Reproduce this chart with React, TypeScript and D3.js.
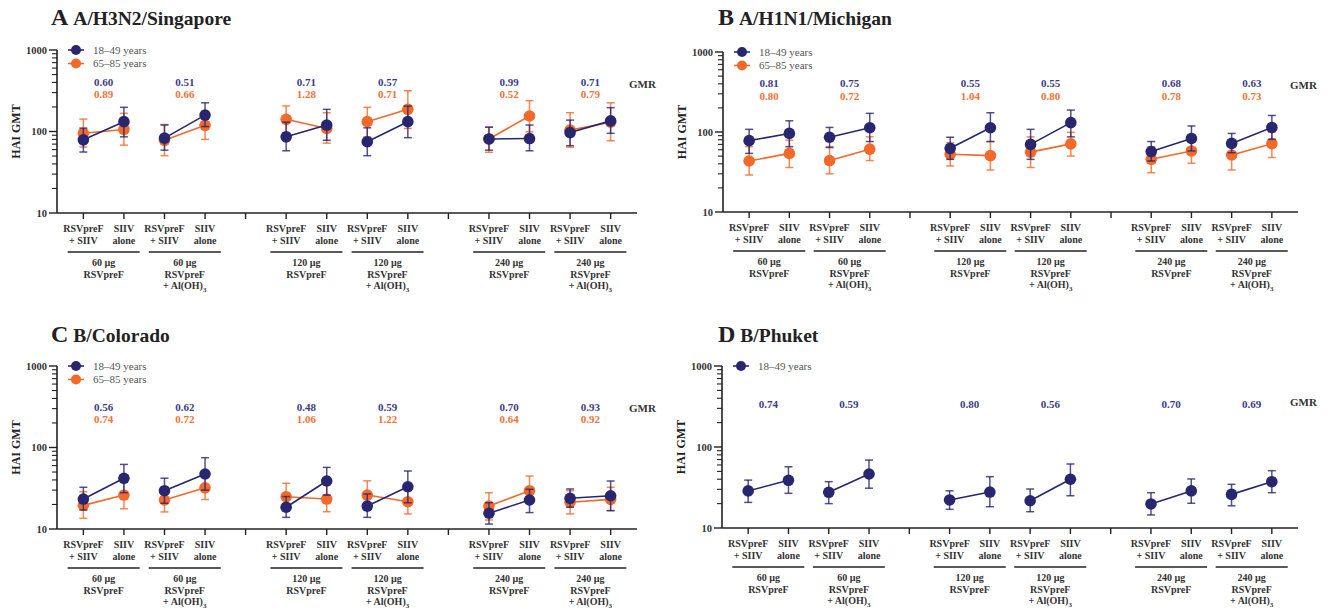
import React from "react";
import * as d3 from "d3";

// ---------- data ----------
const positions = [0, 1, 2, 3, 5, 6, 7, 8, 10, 11, 12, 13];
const emptyTicks = [4, 9];
const pointLabels = [
  ["RSVpreF", "+ SIIV"],
  ["SIIV", "alone"],
];
const groupLabels = [
  ["60 µg", "RSVpreF"],
  ["60 µg", "RSVpreF", "+ Al(OH)"],
  ["120 µg", "RSVpreF"],
  ["120 µg", "RSVpreF", "+ Al(OH)"],
  ["240 µg", "RSVpreF"],
  ["240 µg", "RSVpreF", "+ Al(OH)"],
];
const yTickValues = [10, 100, 1000];
const legendLabels = ["18–49 years", "65–85 years"];

// Panel A – A/H3N2/Singapore
const aNavy = [79, 132, 83, 159, 86, 120, 75, 132, 81, 82, 97, 135];
const aNavyLo = [56, 86, 59, 115, 58, 78, 50.5, 84, 59, 58, 67, 95];
const aNavyHi = [110, 198, 120, 225, 130, 187, 111, 205, 113, 120, 138, 196];
const aOrange = [95, 106, 78, 119, 141, 109, 132, 187, 81, 155, 104, 130];
const aOrangeLo = [64.5, 68, 50.5, 80, 97, 72, 86, 109, 55.5, 99, 64, 77];
const aOrangeHi = [142, 167, 122, 175, 206, 170, 198, 316, 113, 239, 170, 225];
const aGmrNavy = ["0.60", "0.51", "0.71", "0.57", "0.99", "0.71"];
const aGmrOrange = ["0.89", "0.66", "1.28", "0.71", "0.52", "0.79"];

// Panel B – A/H1N1/Michigan
const bNavy = [78, 96, 86, 113, 62.5, 113, 70, 131, 57, 83, 72, 114];
const bNavyLo = [54, 65.5, 64, 76, 45.5, 76, 45.5, 87, 43.4, 58, 55, 81];
const bNavyHi = [108, 138, 114, 171, 86, 174, 108, 188, 76, 119, 96, 161];
const bOrange = [43.4, 54, 44, 61, 52.6, 50.6, 56, 71, 45.6, 58, 51.6, 71.5];
const bOrangeLo = [29, 36, 30, 44, 37.6, 33.5, 36, 50, 31, 40.6, 33.5, 48];
const bOrangeHi = [65.5, 79, 65.5, 87, 73.5, 76, 87, 99, 65.5, 83, 79, 99];
const bGmrNavy = ["0.81", "0.75", "0.55", "0.55", "0.68", "0.63"];
const bGmrOrange = ["0.80", "0.72", "1.04", "0.80", "0.78", "0.73"];

// Panel C – B/Colorado
const cNavy = [23.3, 41.9, 29.5, 47.3, 18.5, 38.8, 19.1, 33, 15.6, 22.7, 23.8, 25.6];
const cNavyLo = [17.1, 27.9, 20.7, 30, 13.9, 26, 13.9, 21, 11.5, 15.9, 18.5, 16.8];
const cNavyHi = [32.5, 62, 42, 75, 25, 57, 26.9, 51.5, 21, 30.7, 31, 38.8];
const cOrange = [19.5, 26.1, 22.7, 32, 24.9, 23.3, 26.1, 21.6, 19.1, 29.5, 21.3, 23.1];
const cOrangeLo = [13.5, 17.7, 16.2, 23, 18, 16.3, 19, 15.3, 12.9, 20.7, 15.3, 16.8];
const cOrangeHi = [28.7, 38, 30.7, 44, 36.4, 34.6, 39, 29.5, 27.9, 44.6, 29.5, 32.5];
const cGmrNavy = ["0.56", "0.62", "0.48", "0.59", "0.70", "0.93"];
const cGmrOrange = ["0.74", "0.72", "1.06", "1.22", "0.64", "0.92"];

// Panel D – B/Phuket
const dNavy = [28.7, 38.8, 27.6, 46.4, 22.2, 27.8, 21.7, 40, 19.8, 28.7, 26, 37.3];
const dNavyLo = [20.7, 26.8, 20, 31, 17, 18.3, 15.9, 25, 14.5, 20.2, 18.8, 27.3];
const dNavyHi = [39, 57, 37.3, 69, 28.8, 43, 30.3, 61.7, 27.3, 40.3, 34.6, 51];
const dGmrNavy = ["0.74", "0.59", "0.80", "0.56", "0.70", "0.69"];

// ---------- styles ----------
const NAVY = "#27266f";
const ORANGE = "#f2692a";
const NAVY_TXT = "#3b3b86";
const ORANGE_TXT = "#f07236";
const AXIS = "#222";
const FONT = "'Liberation Serif', 'Times New Roman', serif";

type Series = {
  color: string;
  txt: string;
  v: number[];
  lo: number[];
  hi: number[];
  gmr: string[];
};

type PanelProps = {
  letter: string;
  title: string;
  titleX: number;
  titleY: number;
  x0: number;
  x1: number;
  yTop: number;
  yBot: number;
  gmrY: number[];
  gmrLabelY: number;
  series: Series[];
};

function Panel(p: PanelProps) {
  const x = d3.scaleLinear().domain([-0.65, 13.65]).range([p.x0, p.x1]);
  const y = d3.scaleLog().domain([10, 1000]).range([p.yBot, p.yTop]);
  const minor: number[] = [];
  [10, 100].forEach((d) => {
    for (let k = 2; k <= 9; k++) minor.push(d * k);
  });
  const allTicks = [...positions, ...emptyTicks];
  const line = d3
    .line<[number, number]>()
    .x((d) => d[0])
    .y((d) => d[1]);

  const labTop = p.yBot + 19;
  return (
    <g fontFamily={FONT}>
      {/* title */}
      <text x={p.titleX} y={p.titleY} fontWeight="bold" fill="#222">
        <tspan fontSize={24}>{p.letter}</tspan>
        <tspan fontSize={19.5} dx={5}>{p.title}</tspan>
      </text>
      {/* y axis */}
      <line x1={p.x0} x2={p.x0} y1={p.yTop} y2={p.yBot} stroke={AXIS} strokeWidth={1.6} />
      {yTickValues.map((t) => (
        <g key={t}>
          <line x1={p.x0 - 8} x2={p.x0} y1={y(t)} y2={y(t)} stroke={AXIS} strokeWidth={1.4} />
          <text
            x={p.x0 - 10}
            y={y(t)}
            dy="0.35em"
            textAnchor="end"
            fontSize={10.5}
            fontWeight="bold"
            fill="#333"
          >
            {t}
          </text>
        </g>
      ))}
      {minor.map((t) => (
        <line key={t} x1={p.x0 - 5} x2={p.x0} y1={y(t)} y2={y(t)} stroke={AXIS} strokeWidth={1.1} />
      ))}
      <text
        transform={`translate(${p.x0 - 41},${(p.yTop + p.yBot) / 2}) rotate(-90)`}
        textAnchor="middle"
        fontSize={12}
        fontWeight="bold"
        fill="#222"
        dy="0.35em"
      >
        HAI GMT
      </text>
      {/* x axis */}
      <line x1={p.x0} x2={p.x1} y1={p.yBot} y2={p.yBot} stroke={AXIS} strokeWidth={1.6} />
      {allTicks.map((t) => (
        <line key={t} x1={x(t)} x2={x(t)} y1={p.yBot} y2={p.yBot + 6} stroke={AXIS} strokeWidth={1.4} />
      ))}
      {positions.map((t, i) => {
        const lab = pointLabels[i % 2];
        return (
          <text key={t} x={x(t)} y={labTop} textAnchor="middle" fontSize={10} fontWeight="bold" fill="#333">
            <tspan x={x(t)}>{lab[0]}</tspan>
            <tspan x={x(t)} dy={12}>{lab[1]}</tspan>
          </text>
        );
      })}
      {groupLabels.map((g, gi) => {
        const cx = (x(positions[gi * 2]) + x(positions[gi * 2 + 1])) / 2;
        return (
          <g key={gi}>
            <line x1={cx - 36} x2={cx + 36} y1={p.yBot + 39} y2={p.yBot + 39} stroke={AXIS} strokeWidth={1.4} />
            <text x={cx} y={p.yBot + 53} textAnchor="middle" fontSize={10} fontWeight="bold" fill="#333">
              {g.map((s, si) => (
                <tspan key={si} x={cx} dy={si === 0 ? 0 : 11.5}>
                  {s}
                  {si === 2 ? (
                    <tspan fontSize={7} dy={3}>3</tspan>
                  ) : null}
                </tspan>
              ))}
            </text>
          </g>
        );
      })}
      {/* GMR */}
      <text x={p.x1 - 8} y={p.gmrLabelY} fontSize={11} fontWeight="bold" fill="#333" dy="0.35em">
        GMR
      </text>
      {p.series.map((s, si) =>
        s.gmr.map((g, gi) => {
          const cx = (x(positions[gi * 2]) + x(positions[gi * 2 + 1])) / 2;
          return (
            <text
              key={`${si}-${gi}`}
              x={cx}
              y={p.gmrY[si]}
              textAnchor="middle"
              fontSize={11}
              fontWeight="bold"
              fill={s.txt}
              dy="0.35em"
            >
              {g}
            </text>
          );
        })
      )}
      {/* data, orange first */}
      {[...p.series].reverse().map((s, si) => (
        <g key={si}>
          {[0, 1, 2, 3, 4, 5].map((gi) => {
            const pts: [number, number][] = [0, 1].map((k) => [
              x(positions[gi * 2 + k]),
              y(s.v[gi * 2 + k]),
            ]);
            return (
              <path key={gi} d={line(pts) || ""} stroke={s.color} strokeWidth={1.6} fill="none" />
            );
          })}
          {positions.map((t, i) => {
            const cx = x(t);
            return (
              <g key={t} stroke={s.color} strokeWidth={1.5} strokeOpacity={0.8}>
                <line x1={cx} x2={cx} y1={y(s.lo[i])} y2={y(s.hi[i])} />
                <line x1={cx - 4} x2={cx + 4} y1={y(s.lo[i])} y2={y(s.lo[i])} />
                <line x1={cx - 4} x2={cx + 4} y1={y(s.hi[i])} y2={y(s.hi[i])} />
              </g>
            );
          })}
          {positions.map((t, i) => (
            <circle key={t} cx={x(t)} cy={y(s.v[i])} r={5.8} fill={s.color} />
          ))}
        </g>
      ))}
      {/* legend */}
      {p.series.map((s, si) => {
        const ly = p.yTop + 0 + si * 13.5;
        return (
          <g key={si}>
            <line x1={p.x0 + 11} x2={p.x0 + 27} y1={ly} y2={ly} stroke={s.color} strokeWidth={1.6} />
            <circle cx={p.x0 + 19} cy={ly} r={5} fill={s.color} />
            <text x={p.x0 + 36} y={ly} dy="0.35em" fontSize={11} fill="#555">
              {legendLabels[si]}
            </text>
          </g>
        );
      })}
    </g>
  );
}

export default function App() {
  const sA: Series[] = [
    { color: NAVY, txt: NAVY_TXT, v: aNavy, lo: aNavyLo, hi: aNavyHi, gmr: aGmrNavy },
    { color: ORANGE, txt: ORANGE_TXT, v: aOrange, lo: aOrangeLo, hi: aOrangeHi, gmr: aGmrOrange },
  ];
  const sB: Series[] = [
    { color: NAVY, txt: NAVY_TXT, v: bNavy, lo: bNavyLo, hi: bNavyHi, gmr: bGmrNavy },
    { color: ORANGE, txt: ORANGE_TXT, v: bOrange, lo: bOrangeLo, hi: bOrangeHi, gmr: bGmrOrange },
  ];
  const sC: Series[] = [
    { color: NAVY, txt: NAVY_TXT, v: cNavy, lo: cNavyLo, hi: cNavyHi, gmr: cGmrNavy },
    { color: ORANGE, txt: ORANGE_TXT, v: cOrange, lo: cOrangeLo, hi: cOrangeHi, gmr: cGmrOrange },
  ];
  const sD: Series[] = [
    { color: NAVY, txt: NAVY_TXT, v: dNavy, lo: dNavyLo, hi: dNavyHi, gmr: dGmrNavy },
  ];
  return (
    <svg
      width={1328}
      height={610}
      style={{ position: "absolute", left: 0, top: 0, background: "#fff" }}
    >
      <rect width={1328} height={610} fill="#fff" />
      <Panel letter="A" title="A/H3N2/Singapore" titleX={51} titleY={25} x0={57} x1={637} yTop={50} yBot={213} gmrY={[82, 94]} gmrLabelY={84} series={sA} />
      <Panel letter="B" title="A/H1N1/Michigan" titleX={718} titleY={25} x0={723} x1={1298} yTop={52} yBot={212} gmrY={[83, 96]} gmrLabelY={85} series={sB} />
      <Panel letter="C" title="B/Colorado" titleX={51} titleY={342} x0={57} x1={637} yTop={366} yBot={529} gmrY={[407, 419]} gmrLabelY={408} series={sC} />
      <Panel letter="D" title="B/Phuket" titleX={718} titleY={342} x0={722} x1={1298} yTop={366} yBot={528} gmrY={[404]} gmrLabelY={402} series={sD} />
    </svg>
  );
}
